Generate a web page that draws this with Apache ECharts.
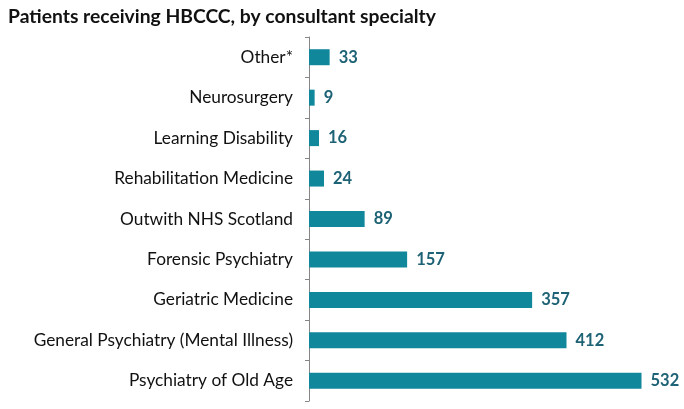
<!DOCTYPE html>
<html>
<head>
<meta charset="utf-8">
<script src="https://cdn.jsdelivr.net/npm/echarts@6/dist/echarts.min.js"></script>
<style>
  html, body { margin: 0; padding: 0; background: #fff; }
  #container { width: 684px; height: 409px; }
</style>
</head>
<body>
<div id="container"></div>
<script>
// specialties, bottom to top as drawn
var specialties = ['Psychiatry of Old Age', 'General Psychiatry (Mental Illness)', 'Geriatric Medicine',
    'Forensic Psychiatry', 'Outwith NHS Scotland', 'Rehabilitation Medicine',
    'Learning Disability', 'Neurosurgery', 'Other*'];
var patients = [532, 412, 357, 157, 89, 24, 16, 9, 33];

var font = 'Lato, "Open Sans", sans-serif';
var myChart = echarts.init(document.getElementById('container'));

var option = {
    animation: false,
    title: {
        text: 'Patients receiving HBCCC, by consultant specialty',
        left: 3,
        top: 2,
        textStyle: { fontFamily: font, fontSize: 19.3, fontWeight: 'bold', color: '#111' }
    },
    grid: {
        left: 309,
        top: 37,
        width: 376,
        height: 364
    },
    xAxis: {
        type: 'value',
        min: 0,
        max: 600,
        show: false
    },
    yAxis: {
        type: 'category',
        data: specialties,
        axisLine: { show: true, lineStyle: { color: '#868686', width: 1 } },
        axisTick: { show: true, length: 4, lineStyle: { color: '#868686' } },
        axisLabel: { margin: 16, fontFamily: font, fontSize: 17.3, color: '#111' }
    },
    series: [{
        type: 'bar',
        data: patients,
        barWidth: 16,
        itemStyle: { color: '#11879c' },
        label: {
            show: true,
            position: 'right',
            distance: 9,
            fontFamily: font,
            fontSize: 16.5,
            fontWeight: 'bold',
            color: '#1d6275'
        }
    }]
};
myChart.setOption(option);
</script>
</body>
</html>
